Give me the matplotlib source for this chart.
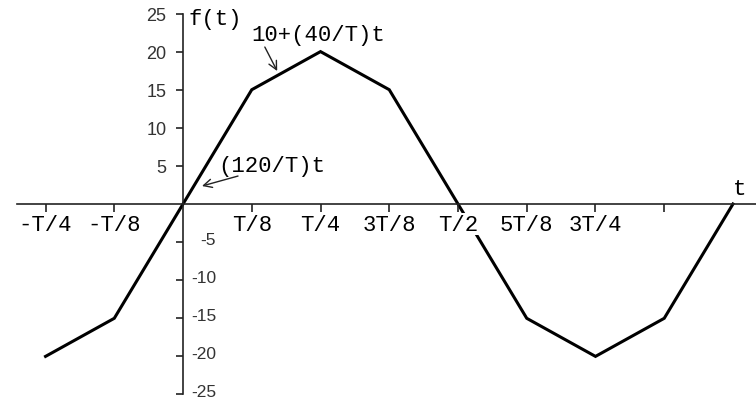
import numpy as np
import matplotlib.pyplot as plt
from matplotlib.transforms import offset_copy

# x in units of T/8
t_pts = [-2, -1, 0, 1, 2, 3, 4, 5, 6, 7, 8]
f_pts = [-20, -15, 0, 15, 20, 15, 0, -15, -20, -15, 0]

xtick_pos = [-2, -1, 1, 2, 3, 4, 5, 6, 7]
xtick_lab = ['-T/4', '-T/8', 'T/8', 'T/4', '3T/8', 'T/2', '5T/8', '3T/4', '']
ytick_pos = [-25, -20, -15, -10, -5, 5, 10, 15, 20, 25]

mono = 'Liberation Mono'
sans = 'Liberation Sans'

fig = plt.figure(figsize=(7.56, 4.02), dpi=100)
ax = fig.add_axes([0.0225, 0.0067, 0.9775, 0.9667])
ax.set_xlim(-2.415, 8.335)
ax.set_ylim(-25.5, 25.5)

ax.plot(t_pts, f_pts, color='black', lw=2.2, zorder=2, solid_joinstyle='miter')

for s in ['top', 'right']:
    ax.spines[s].set_visible(False)
ax.spines['left'].set_position(('data', 0))
ax.spines['bottom'].set_position(('data', 0))
ax.spines['left'].set_bounds(-25, 25)
for s in ['left', 'bottom']:
    ax.spines[s].set_color('#222222')
    ax.spines[s].set_linewidth(1.2)
ax.set_axisbelow(False)

ax.set_xticks(xtick_pos)
ax.set_xticklabels(xtick_lab, fontfamily=mono, fontsize=16)
ax.tick_params(axis='x', direction='out', length=6, width=1.2, color='#222222', pad=1)
for lab in ax.get_xticklabels():
    lab.set_bbox(dict(facecolor='white', edgecolor='none', pad=0.5))

ax.set_yticks(ytick_pos)
ax.set_yticklabels([str(v) if v > 0 else '' for v in ytick_pos],
                   fontfamily=sans, fontsize=13, color='#333333')
ax.tick_params(axis='y', direction='out', length=5, width=1.2, color='#222222', pad=7)

# negative labels sit on the right of the axis, a little above their tick
tr = offset_copy(ax.transData, fig=fig, x=33 * 0.72, y=2.5 * 0.72, units='points')
for v in ytick_pos:
    if v < 0:
        ax.text(0, v, str(v), transform=tr, ha='right', va='center',
                fontfamily=sans, fontsize=12.5, color='#333333')

ax.text(0.073, 24.3, 'f(t)', fontfamily=mono, fontsize=16, ha='left', va='center')
ax.text(8.10, 2.0, 't', fontfamily=mono, fontsize=16, ha='center', va='center')
ax.text(1.0, 22.3, '10+(40/T)t', fontfamily=mono, fontsize=16, ha='left', va='center')
ax.text(0.51, 5.0, '(120/T)t', fontfamily=mono, fontsize=16, ha='left', va='center')

ax.annotate('', xy=(1.37, 17.45), xytext=(1.19, 20.6),
            arrowprops=dict(arrowstyle='->', color='#222222', lw=1,
                            mutation_scale=15, shrinkA=0, shrinkB=0))
ax.annotate('', xy=(0.276, 2.36), xytext=(0.80, 3.67),
            arrowprops=dict(arrowstyle='->', color='#222222', lw=1,
                            mutation_scale=15, shrinkA=0, shrinkB=0))

fig.savefig('out.png', dpi=100)
